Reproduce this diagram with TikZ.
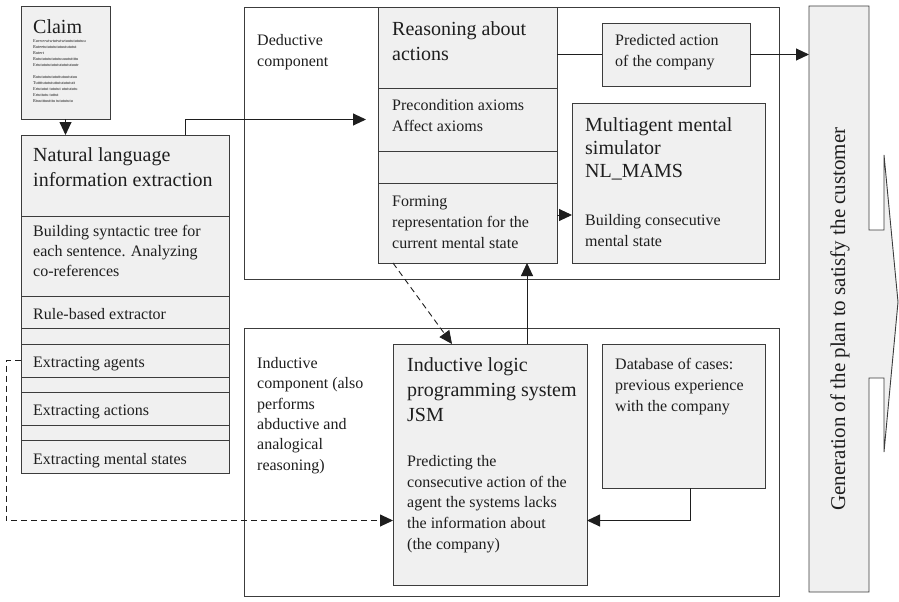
\documentclass[tikz,border=0pt]{standalone}
\usepackage{fontspec}
\setmainfont{Liberation Serif}
\usetikzlibrary{arrows.meta}
\definecolor{boxgrey}{RGB}{240,240,240}
\definecolor{edge}{RGB}{60,60,60}
\definecolor{ink}{RGB}{30,30,30}

\begin{document}
\begin{tikzpicture}[x=1pt, y=-1pt,
    plate/.style={draw=edge, fill=boxgrey, line width=0.9pt},
    blk/.style={plate, anchor=north west, inner sep=0pt, outer sep=0pt},
    area/.style={blk, fill=white},
    txt/.style={anchor=north west, align=left, inner sep=0pt, text=ink, font=\fontsize{16}{20.8}\selectfont},
    bigtxt/.style={txt, font=\fontsize{20}{25}\selectfont},
    link/.style={draw=ink, line width=0.9pt, -{Triangle[length=13pt,width=12pt]}},
    hint/.style={link, dash pattern=on 6pt off 4pt}]

    \useasboundingbox (0,0) rectangle (899,602);

    \node[area, minimum width=535, minimum height=272] (ded) at (244,7) {};
    \node[area, minimum width=535, minimum height=268] (ind) at (244,328) {};

    \node[blk, minimum width=89, minimum height=113] (claim) at (21,6) {};
    \node[blk, minimum width=208, minimum height=81] (nl) at (21,135) {};
    \node[blk, minimum width=208, minimum height=80] (syn) at (21,216) {};
    \node[blk, minimum width=208, minimum height=32] (rule) at (21,296) {};
    \node[blk, minimum width=208, minimum height=16] (gapA) at (21,328) {};
    \node[blk, minimum width=208, minimum height=33] (agents) at (21,344) {};
    \node[blk, minimum width=208, minimum height=15] (gapB) at (21,377) {};
    \node[blk, minimum width=208, minimum height=33] (actions) at (21,392) {};
    \node[blk, minimum width=208, minimum height=15] (gapC) at (21,425) {};
    \node[blk, minimum width=208, minimum height=33] (mental) at (21,440) {};

    \node[blk, minimum width=179, minimum height=81] (reason) at (378,7) {};
    \node[blk, minimum width=179, minimum height=63] (precond) at (378,88) {};
    \node[blk, minimum width=179, minimum height=32] (gapD) at (378,151) {};
    \node[blk, minimum width=179, minimum height=80] (forming) at (378,183) {};
    \node[blk, minimum width=148, minimum height=63] (pred) at (602,23) {};
    \node[blk, minimum width=193, minimum height=160] (multi) at (572,103) {};

    \node[blk, minimum width=194, minimum height=241] (jsm) at (393,344) {};
    \node[blk, minimum width=163, minimum height=144] (db) at (602,344) {};

    \node[anchor=north west, inner sep=0pt, outer sep=0pt, minimum width=60, minimum height=586] (plan) at (809,6) {};
    \draw[plate] (plan.north west) -- (plan.north east) -- (869,230) -- (884,230) -- (884,155) -- (898,302)
        -- (884,452) -- (884,378) -- (869,378) -- (plan.south east) -- (plan.south west) -- cycle;

    \node[bigtxt] (claimT) at (33,19) {Claim};
    \node[txt, font=\fontsize{4.3}{6}\selectfont] (claimN) at (33,39) {Euvwvwtwtutwtwtuututututuu\\Ruteetutututututuutututut\\Rutert\\Rutututututututuuuututtttu\\Ertututututututututututuutr\\[6pt]Rutututututututtutuututuu\\Tuttttututututtutututututt\\Ertututut tututut ututututu\\Ertuttutu tuttut\\Rtuutttuutttu tututututu};
    \node[bigtxt] (nlT) at (33,147) {Natural language\\information extraction};
    \node[txt, font=\fontsize{16}{20}\selectfont] (synT) at (33,225) {Building syntactic tree for\\each sentence. Analyzing\\co-references};
    \node[txt] (ruleT) at (33,308) {Rule-based extractor};
    \node[txt] (agentsT) at (33,357) {Extracting agents};
    \node[txt] (actionsT) at (33,405) {Extracting actions};
    \node[txt] (mentalT) at (33,453) {Extracting mental states};

    \node[txt] (dedT) at (257,34) {Deductive\\component};
    \node[bigtxt] (reasonT) at (392,21) {Reasoning about\\actions};
    \node[txt] (precondT) at (392,99) {Precondition axioms\\Affect axioms};
    \node[txt] (formingT) at (392,196) {Forming\\representation for the\\current mental state};
    \node[txt] (predT) at (615,34) {Predicted action\\of the company};
    \node[bigtxt, font=\fontsize{20}{23}\selectfont] (multiT) at (585,117) {Multiagent mental\\simulator\\NL\_MAMS};
    \node[txt] (multiS) at (585,214) {Building consecutive\\mental state};

    \node[txt, font=\fontsize{16}{20.4}\selectfont] (indT) at (257,357) {Inductive\\component (also\\performs\\abductive and\\analogical\\reasoning)};
    \node[bigtxt] (jsmT) at (407,357) {Inductive logic\\programming system\\JSM};
    \node[txt] (jsmS) at (407,455) {Predicting the\\consecutive action of the\\agent the systems lacks\\the information about\\(the company)};
    \node[txt] (dbT) at (615,358) {Database of cases:\\previous experience\\with the company};

    \node[rotate=90, text=ink, font=\fontsize{21}{25}\selectfont] (planT) at (840,319) {Generation of the plan to satisfy the customer};

    \draw[link] (claim.south) -- (claim.south |- nl.north);
    \draw[link, shorten >=12pt] ([xshift=60pt]nl.north) |- (precond.west);
    \draw[draw=ink, line width=0.9pt] (reason.east |- pred.west) -- (pred.west);
    \draw[link] (pred.east) -- (pred.east -| plan.west);
    \draw[link] ([yshift=8pt]forming.east) -- ([yshift=8pt]forming.east -| multi.west);
    \draw[link] ([xshift=37pt]jsm.north) -- ([xshift=37pt]jsm.north |- forming.south);
    \draw[hint] ([xshift=15pt]forming.south west) -- ([xshift=-38pt]jsm.north);
    \draw[hint] (agents.west) -- ++(-15,0) |- ([yshift=-56pt]jsm.west);
    \draw[link] ([xshift=7pt]db.south) |- ([yshift=-56pt]jsm.east);
\end{tikzpicture}
\end{document}
